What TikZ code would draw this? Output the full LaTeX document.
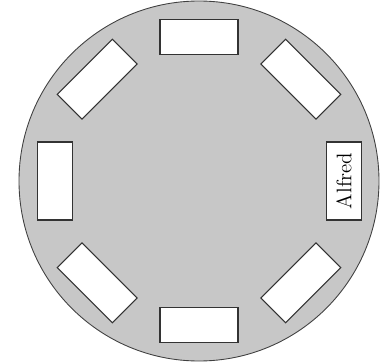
\documentclass[tikz,border=0pt]{standalone}
\usepackage{tikz}

\begin{document}
\begin{tikzpicture}[
        table/.style={draw=black!75, fill=black!22, line width=0.5pt},
        seat/.style={draw=black!80, fill=white, line width=0.6pt, minimum width=1.56cm, minimum height=0.7cm, inner sep=0pt, font=\large},
    ]
    \useasboundingbox (-3.98, -3.62) rectangle (3.72, 3.62);
    \node[table, circle, minimum size=7.2cm] (tab) at (0, 0) {};
    % seats round the table, long side along the rim
    \node[seat, rotate=90] (seat0) at (0:2.9) {Alfred};
    \foreach \a in {45, 90, ..., 315}
        \node[seat, rotate=\a+90] (seat\a) at (\a:2.88) {};
\end{tikzpicture}
\end{document}
